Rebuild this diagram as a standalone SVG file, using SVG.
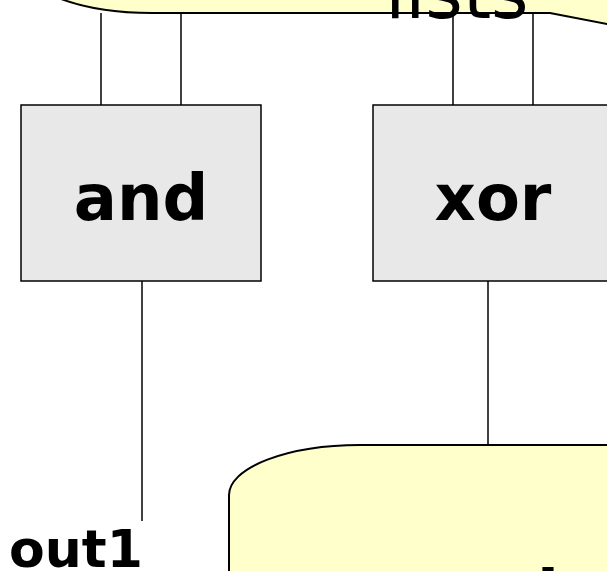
<svg xmlns="http://www.w3.org/2000/svg" width="607" height="571" viewBox="0 0 607 571">
  <style>
    .gate { fill: #e8e8e8; stroke: #000; stroke-width: 1.5; }
    .data { fill: #ffffcc; stroke: #000; stroke-width: 2; }
    .wire { fill: none; stroke: #000; stroke-width: 1.5; }
    .lbl  { font-family: "DejaVu Sans", "Liberation Sans", sans-serif; fill: #000; }
    .bold { font-weight: bold; }
  </style>
  <rect width="607" height="571" fill="#fff"/>

  <!-- input data block -->
  <g id="lists">
    <path class="data" d="M21,-120 V-37 A131,50 0 0 0 152,13 H550 L620,26.6 V-120 Z"/>
    <text class="lbl" x="457" y="18" font-size="72" text-anchor="middle">lists</text>
  </g>

  <!-- connectors -->
  <g id="connectors">
    <line class="wire" x1="101" y1="13" x2="101" y2="105"/>
    <line class="wire" x1="181" y1="13" x2="181" y2="105"/>
    <line class="wire" x1="453" y1="13" x2="453" y2="105"/>
    <line class="wire" x1="533" y1="13" x2="533" y2="105"/>
    <line class="wire" x1="142" y1="281" x2="142" y2="521"/>
    <line class="wire" x1="488" y1="281" x2="488" y2="445"/>
  </g>

  <g id="and">
    <rect class="gate" x="21" y="105" width="240" height="176"/>
    <text class="lbl bold" x="141" y="220" font-size="64" text-anchor="middle">and</text>
  </g>

  <g id="xor">
    <rect class="gate" x="373" y="105" width="240" height="176"/>
    <text class="lbl bold" x="493" y="220" font-size="64" text-anchor="middle">xor</text>
  </g>

  <g id="out1">
    <text class="lbl bold" x="76" y="567" font-size="52" text-anchor="middle">out1</text>
  </g>

  <!-- result data block -->
  <g id="result">
    <path class="data" d="M229,600 V495 A131,50 0 0 1 360,445 H620 V600 Z"/>
    <text class="lbl bold" x="537" y="616" font-size="64">l</text>
  </g>
</svg>
